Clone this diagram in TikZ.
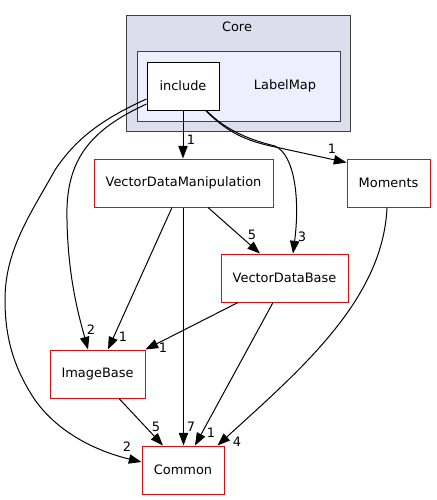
\documentclass[tikz,border=0pt]{standalone}
\usepackage{fontspec}
\setmainfont{DejaVu Sans}
\usetikzlibrary{arrows.meta,calc}
\definecolor{clusterA}{HTML}{DDDDEE}
\definecolor{clusterB}{HTML}{EEEEFF}
\definecolor{frame}{HTML}{404040}

\begin{document}
\begin{tikzpicture}[x=0.75pt, y=-0.75pt, line width=0.75pt,
  font=\fontsize{9.7pt}{11pt}\selectfont,
  dir/.style={draw=red, fill=white, minimum height=36pt, inner sep=0pt},
  dep/.style={-{Triangle[length=9.5pt,width=7pt]}},
  lbl/.style={inner sep=0pt}]
  \useasboundingbox (0,0) rectangle (436,500);

  % clusters
  \draw[frame, fill = clusterA] (126,15) rectangle (350,131);
  \node at (237,27) {Core};
  \draw[frame, fill = clusterB] (137,51) rectangle (340,121);
  \node at (285,86) {LabelMap};

  \node[draw = black, fill = white, minimum width = 54pt, minimum height = 36pt,
  inner sep = 0pt] (inc) at (183,86) {include};

  \node[dir, minimum width = 134.25pt] (vdm) at (183.5,183) {VectorDataManipulation};
  \node[dir, minimum width = 62.25pt] (mom) at (388.5,183) {Moments};
  \node[dir, minimum width = 95.25pt] (vdb) at (284.5,278) {VectorDataBase};
  \node[dir, minimum width = 71.25pt] (imgb) at (97.5,374) {ImageBase};
  \node[dir, minimum width = 61.5pt] (com) at (183,470) {Common};

  % from include
  \draw[dep] (inc.south) -- (inc.south |- vdm.north);
  \draw[dep] ($(inc.south east)+(-14,0)$) .. controls (230,135) and (250,142)
  .. (280,148) -- ($(mom.north west)+(0,4)$);
  \draw[dep] ($(inc.south east)+(-13,0)$) .. controls (225,130) and (250,140)
  .. (275,146) .. controls (295,155) and (300,200) .. ($(vdb.north)+(8.5,0)$);
  \draw[dep] ($(inc.west)+(0,18)$) .. controls (90,130) and (65,160) .. (67,220)
  .. controls (68,280) and (80,320) .. ($(imgb.north)+(-9.5,0)$);
  \draw[dep] ($(inc.west)+(0,13)$) .. controls (100,120) and (75,140) .. (55,170)
  .. controls (30,215) and (5,250) .. (5,300)
  .. controls (5,340) and (15,370) .. (35,400)
  .. controls (60,435) and (100,452) .. ($(com.west)+(0,-8)$);

  % the others
  \draw[dep] ($(vdm.south)+(-11.5,0)$) -- ($(imgb.north)+(10.5,0)$);
  \draw[dep] (vdm.south) -- (vdm.south |- com.north);
  \draw[dep] ($(vdm.south)+(24.5,0)$) -- ($(vdb.north)+(-24.5,0)$);
  \draw[dep] ($(vdb.south)+(-46.5,0)$) -- (imgb.north east);
  \draw[dep] ($(vdb.south)+(-11.5,0)$) -- ($(com.north)+(12,0)$);
  \draw[dep] ($(mom.south)+(-1.5,0)$) .. controls (383,300) and (300,370)
  .. ($(com.north east)+(-7,0)$);
  \draw[dep] ($(imgb.south)+(21.5,0)$) -- ($(com.north)+(-20,0)$);

  \foreach \p/\t in {{191,140}/1, {332,149}/1, {302,237}/3, {91,330}/2,
    {127,447}/2, {123,337}/1, {191,427}/7, {252,235}/5, {163,348}/1,
    {211,433}/1, {237,442}/4, {156,427}/5}{
    \node[lbl] at (\p) {\t};
  }
\end{tikzpicture}
\end{document}
